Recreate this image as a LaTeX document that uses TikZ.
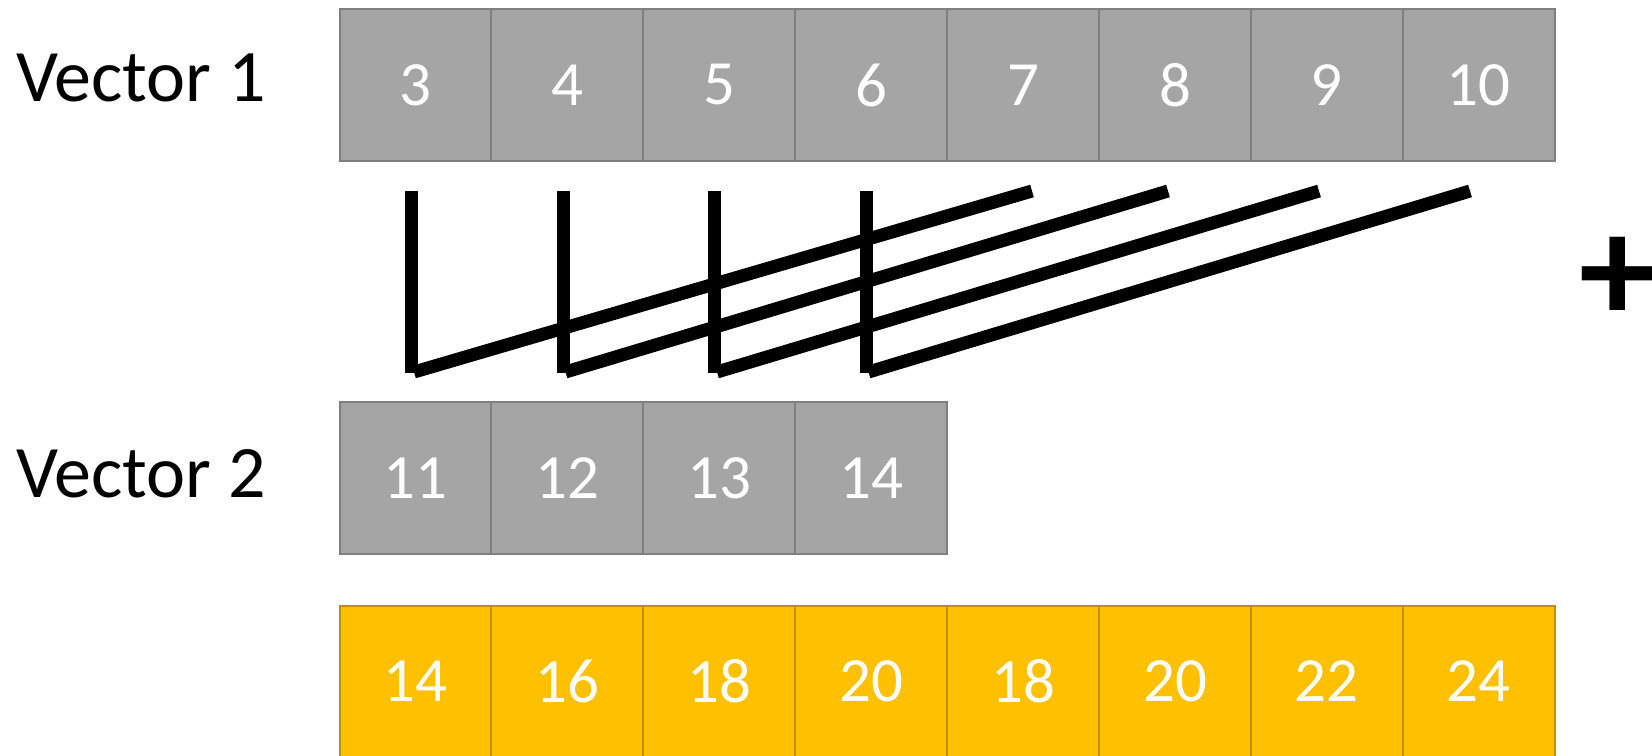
\documentclass[tikz,border=0pt]{standalone}
\usepackage{fontspec}
\setmainfont{Carlito}
\definecolor{cellgray}{HTML}{A5A5A5}
\definecolor{cellgrayline}{HTML}{7F7F7F}
\definecolor{cellgold}{HTML}{FFC000}
\definecolor{cellgoldline}{HTML}{BF9000}
\begin{document}
\begin{tikzpicture}[x=0.5pt,y=-0.5pt,
  cell/.style={draw, line width=1pt, minimum width=76pt, minimum height=76pt,
    inner sep=0pt, outer sep=0pt, text=white, font=\fontsize{31.5}{38}\selectfont},
  graycell/.style={cell, fill=cellgray, draw=cellgrayline},
  goldcell/.style={cell, fill=cellgold, draw=cellgoldline},
  veclabel/.style={anchor=base west, inner sep=0pt, font=\fontsize{37}{45}\selectfont},
  bar/.style={line width=6.5pt, black}]
\useasboundingbox (0,0) rectangle (1652,755);
\clip (0,0) rectangle (1652,755);
% labels
\node[veclabel] (lab1) at (16,101) {Vector 1};
\node[veclabel] (lab2) at (16,497) {Vector 2};
% vector 1
\foreach \v [count=\i from 0] in {3,4,5,6,7,8,9,10}
  \node[graycell] (a\i) at ({415.5+151.9*\i},85) {\v};
% vector 2
\foreach \v [count=\i from 0] in {11,12,13,14}
  \node[graycell] (b\i) at ({415.5+151.9*\i},478.3) {\v};
% result
\foreach \v [count=\i from 0] in {14,16,18,20,18,20,22,24}
  \node[goldcell] (c\i) at ({415.5+151.9*\i},681.5) {\v};
% bars
\foreach \i/\xe in {0/1032,1/1168,2/1319,3/1470} {
  \coordinate (vt\i) at ({411.5+151.5*\i},191);
  \coordinate (vb\i) at ({411.5+151.5*\i},373);
  \coordinate (ds\i) at ({414+151.5*\i},372);
  \coordinate (de\i) at (\xe,191);
  \draw[bar] (vt\i) -- (vb\i);
  \draw[bar] (ds\i) -- (de\i);
}
% plus
\node[inner sep=0pt, font=\fontsize{77}{90}\selectfont\bfseries] (plus) at (1618,280) {+};
\end{tikzpicture}
\end{document}
